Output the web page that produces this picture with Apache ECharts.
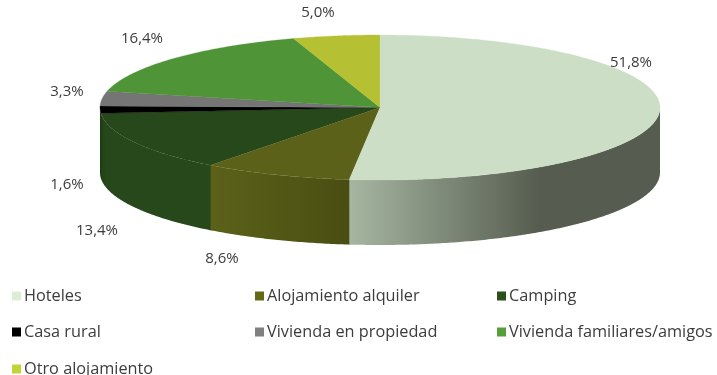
<!DOCTYPE html>
<html><head><meta charset="utf-8">
<style>html,body{margin:0;padding:0;background:#fff}#c{width:717px;height:375px}</style>
<script src="https://cdn.jsdelivr.net/npm/echarts@6/dist/echarts.min.js"></script>
</head><body><div id="c"></div>
<script>
const categories = ['Hoteles','Alojamiento alquiler','Camping','Casa rural','Vivienda en propiedad','Vivienda familiares/amigos','Otro alojamiento'];
const shares = [51.8,8.6,13.4,1.6,3.3,16.4,5.0];

const legendColors = ['#dcefd6','#636a14','#2c5019','#000000','#808080','#559f3a','#c3d235'];
const topColors = ['#cddec6','#5b6119','#27481a','#000000','#757575','#4f9437','#b5c032'];
const sideStops = [
  [[0,'#a6b6a1'],[0.61,'#565d50'],[1,'#565d50']],
  [[0,'#5b6119'],[1,'#4a4d12']],
  [[0,'#213e17'],[0.04,'#27481a'],[1,'#27481a']],
  [[0,'#1e3814'],[1,'#1e3814']],
  [[0,'#666'],[1,'#666']],
  [[0,'#44802f'],[1,'#44802f']],
  [[0,'#9ca82a'],[1,'#9ca82a']]
];
const CX=380, CY=107.5, RX=280, RY=72.5, DEPTH=65;
const labelCenters = [[631,63],[222,259],[97,231],[67,185],[67,92],[142,39],[318,13]];
const legendSlots = [[12,297],[255,297],[497,297],[12,333],[255,333],[497,333],[12,370]];
const FONT='"Open Sans"', TEXT='#3c3c3c', LABEL_FS=15, LEGEND_FS=16.3;

const total = shares.reduce((a,b)=>a+b,0);
const starts = shares.map((_,i)=>shares.slice(0,i).reduce((a,b)=>a+b,0)/total*Math.PI*2);
const pt=(t,dy=0)=>[CX+RX*Math.sin(t),CY-RY*Math.cos(t)+dy];

function arcPts(a,b,dy){
  const n=Math.max(2,Math.ceil((b-a)/0.01)),r=[];
  for(let k=0;k<=n;k++) r.push(pt(a+(b-a)*k/n,dy));
  return r;
}
const renderItem=(i)=>(params,api)=>{
  const v=api.value(0), a=starts[i], b=a+v/total*Math.PI*2, kids=[];
  // front wall only between 90 and 270 degrees clockwise from top
  const fa=Math.max(a,Math.PI/2)-(i>0?0.004:0), fb=Math.min(b,Math.PI*1.5);
  if(fb>fa){
    const pts=arcPts(fa,fb,0).concat(arcPts(fa,fb,DEPTH).reverse());
    const stops=sideStops[i].map(s=>({offset:s[0],color:s[1]}));
    kids.push({type:'polygon',shape:{points:pts},z2:1,style:{fill:new echarts.graphic.LinearGradient(0,0,1,0,stops)}});
  }
  kids.push({type:'polygon',z2:5,shape:{points:[[CX,CY]].concat(arcPts(a,b,0))},style:{fill:topColors[i],stroke:topColors[i],lineWidth:0.3}});
  const lc=labelCenters[i];
  kids.push({type:'text',z2:10,x:lc[0],y:lc[1],style:{text:v.toFixed(1).replace('.',',')+'%',fill:TEXT,font:LABEL_FS+'px '+FONT,align:'center',verticalAlign:'middle'}});
  return {type:'group',children:kids};
};
const chart=echarts.init(document.getElementById('c'),null,{renderer:'canvas'});
chart.setOption({
  animation:false,
  backgroundColor:'#fff',
  legend:categories.map((c,i)=>({
    data:[c],left:legendSlots[i][0],top:legendSlots[i][1]-9,padding:0,itemWidth:9,itemHeight:9,itemGap:3,
    icon:'rect',selectedMode:false,textStyle:{color:TEXT,fontFamily:FONT,fontSize:LEGEND_FS,padding:[0,0,0,-2]}
  })),
  series:categories.map((c,i)=>({
    type:'custom',name:c,coordinateSystem:'none',silent:true,
    itemStyle:{color:legendColors[i]},
    z:i===0?3:(i===1?2:1),
    renderItem:renderItem(i),
    data:[[shares[i]]]
  }))
});
</script></body></html>
